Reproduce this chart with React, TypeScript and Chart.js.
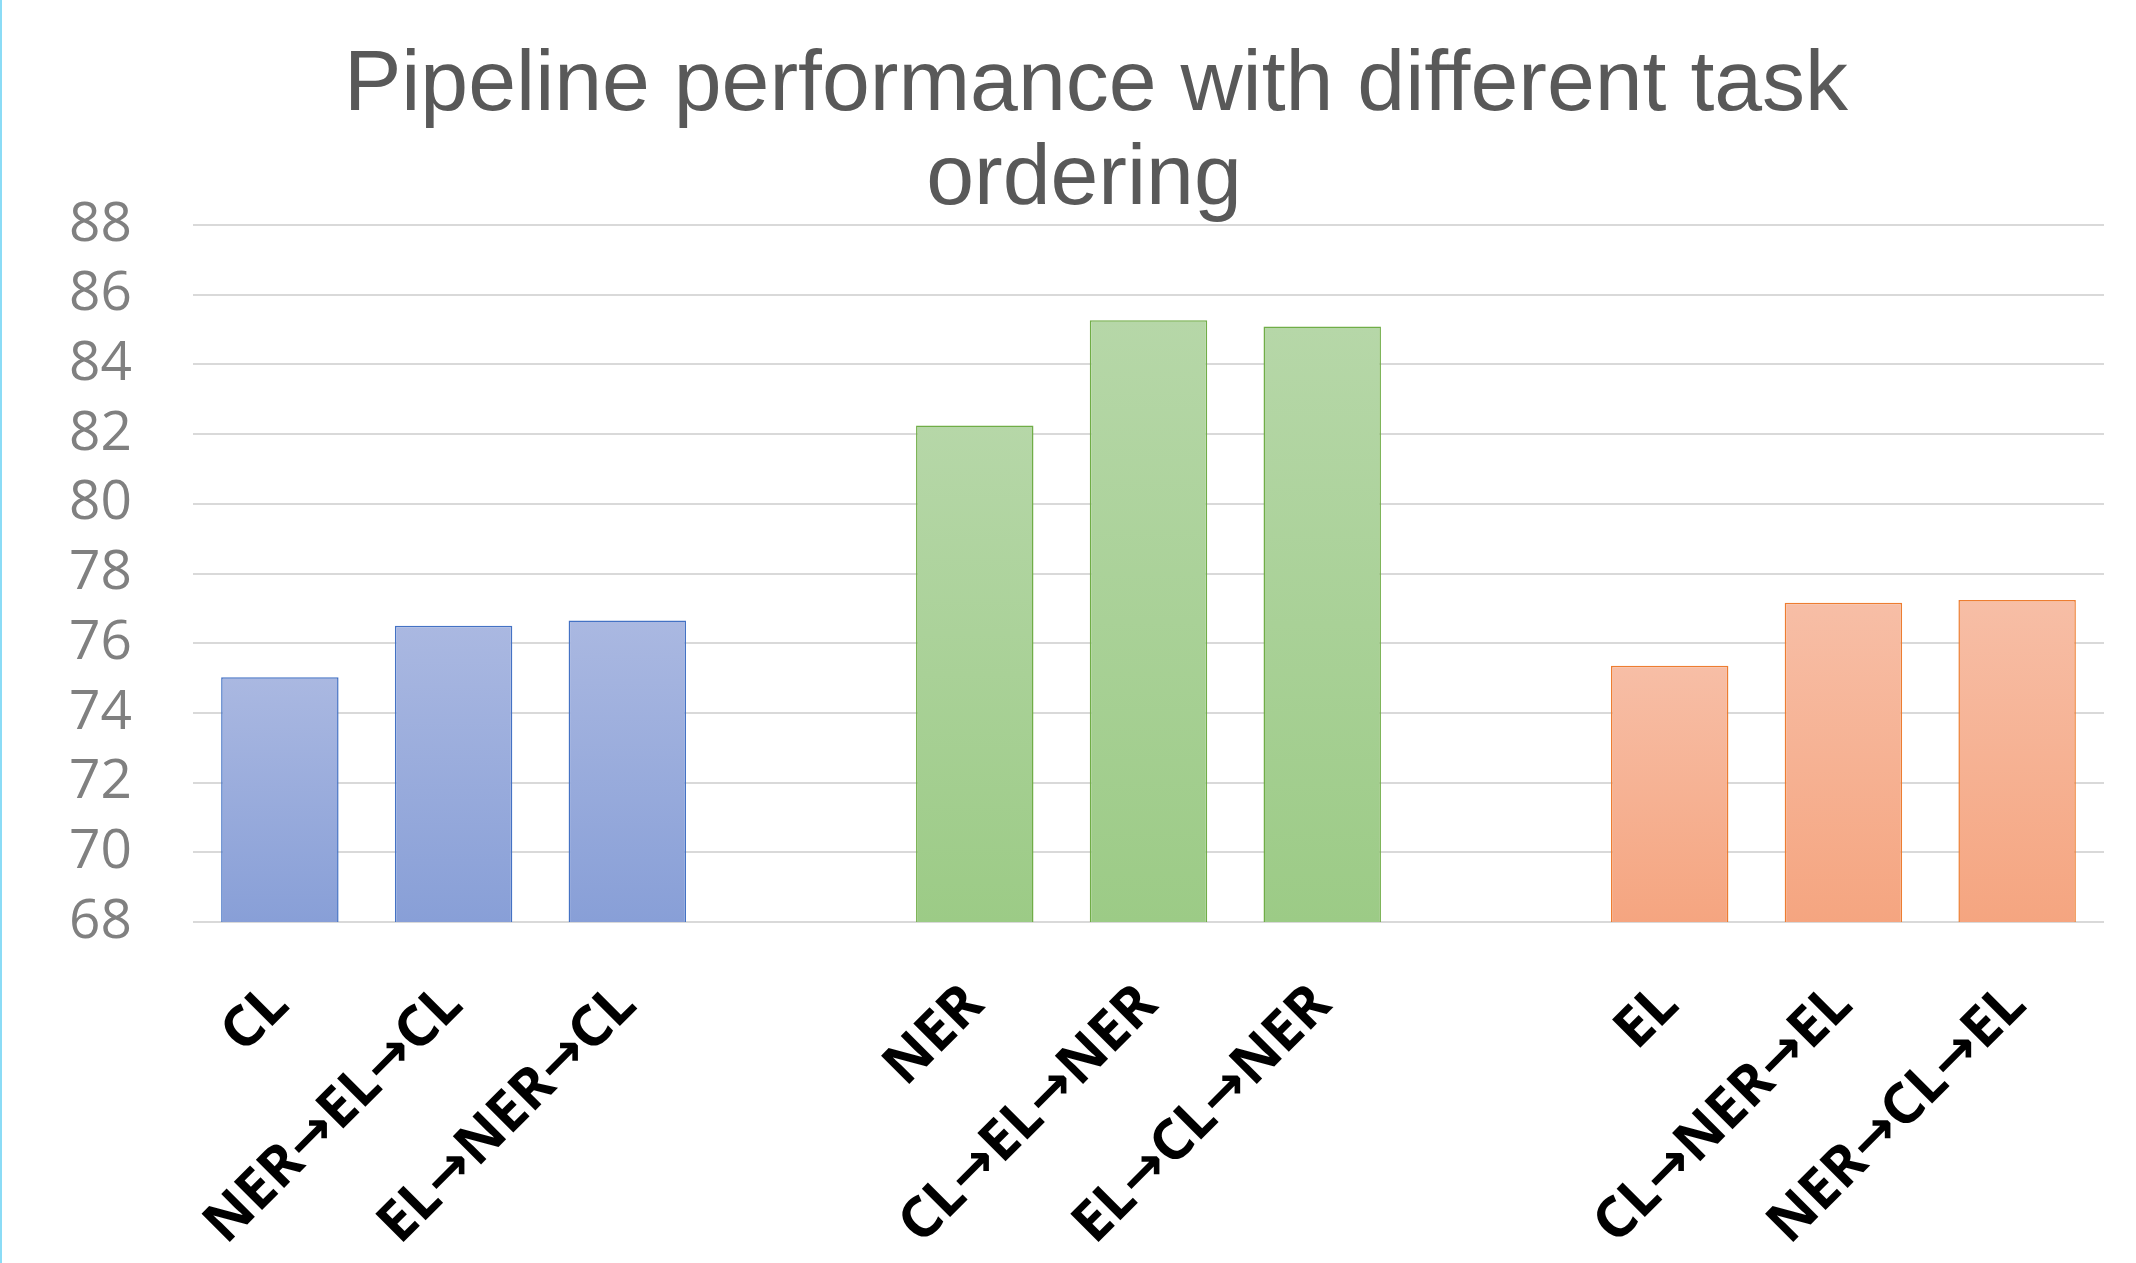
import React, { useEffect, useRef } from 'react';
import { Chart, registerables } from 'chart.js';

Chart.register(...registerables);

// ---- data ----
const clLabels = ['CL', 'NER→EL→CL', 'EL→NER→CL'];
const clValues = [75.02, 76.5, 76.65];
const nerLabels = ['NER', 'CL→EL→NER', 'EL→CL→NER'];
const nerValues = [82.25, 85.27, 85.09];
const elLabels = ['EL', 'CL→NER→EL', 'NER→CL→EL'];
const elValues = [75.35, 77.16, 77.24];
const titleLines = ['Pipeline performance with different task', 'ordering'];
const yMin = 68;
const yMax = 88;
const yStep = 2;

// ---- styles ----
const palettes = [
  { top: '#AAB8E1', bottom: '#889FD7', border: '#4472C4' },
  { top: '#B6D7A8', bottom: '#9CCB86', border: '#70AD47' },
  { top: '#F7BEA6', bottom: '#F5A580', border: '#ED7D31' },
];

const categories = [...clLabels, '', ...nerLabels, '', ...elLabels];
const values: (number | null)[] = [...clValues, null, ...nerValues, null, ...elValues];
const groupOf = [
  ...clLabels.map(() => 0),
  -1,
  ...nerLabels.map(() => 1),
  -1,
  ...elLabels.map(() => 2),
];

const titlePlugin = {
  id: 'customTitle',
  afterDraw(chart: any) {
    const ctx = chart.ctx;
    ctx.save();
    ctx.font = '86px "Liberation Sans", Arial, sans-serif';
    ctx.fillStyle = '#595959';
    ctx.textAlign = 'center';
    ctx.textBaseline = 'alphabetic';
    ctx.fillText(titleLines[0], 1096, 110);
    ctx.fillText(titleLines[1], 1084, 204);
    ctx.restore();
  },
};

export default function App() {
  const ref = useRef<HTMLCanvasElement | null>(null);

  useEffect(() => {
    if (!ref.current) return;
    const chart = new Chart(ref.current, {
      type: 'bar',
      data: {
        labels: categories,
        datasets: [
          {
            data: values,
            backgroundColor: (c: any) => {
              const g = groupOf[c.dataIndex];
              if (g === undefined || g < 0) return 'rgba(0,0,0,0)';
              const p = palettes[g];
              const ys = c.chart.scales && c.chart.scales.y;
              if (!ys || c.raw == null) return p.bottom;
              const top = ys.getPixelForValue(c.raw);
              const bottom = ys.getPixelForValue(yMin);
              if (!isFinite(top) || !isFinite(bottom) || top === bottom) return p.bottom;
              const grad = c.chart.ctx.createLinearGradient(0, top, 0, bottom);
              grad.addColorStop(0, p.top);
              grad.addColorStop(1, p.bottom);
              return grad;
            },
            borderColor: (c: any) => {
              const g = groupOf[c.dataIndex];
              return g >= 0 ? palettes[g].border : 'rgba(0,0,0,0)';
            },
            borderWidth: 1.5,
            borderSkipped: false,
            barPercentage: 0.676,
            categoryPercentage: 1,
          },
        ],
      },
      options: {
        responsive: false,
        animation: false,
        devicePixelRatio: 1,
        layout: { padding: { top: 225, right: 32, left: 0, bottom: 0 } },
        plugins: {
          legend: { display: false },
          title: { display: false },
          tooltip: { enabled: false },
        },
        scales: {
          x: {
            grid: { display: false, drawTicks: false },
            border: { display: false },
            ticks: {
              autoSkip: false,
              minRotation: 45,
              maxRotation: 45,
              padding: 50,
              color: '#000000',
              font: { family: '"Noto Sans", "DejaVu Sans", sans-serif', size: 56, weight: 'bold' },
            },
            afterFit: (s: any) => {
              s.height = 341;
            },
          },
          y: {
            min: yMin,
            max: yMax,
            grid: { color: '#D9D9D9', lineWidth: 2, drawTicks: false },
            border: { display: false },
            ticks: {
              stepSize: yStep,
              padding: 61,
              color: '#808080',
              font: { family: '"Open Sans", "Noto Sans", sans-serif', size: 55 },
            },
            afterFit: (s: any) => {
              s.width = 193;
            },
          },
        },
      },
      plugins: [titlePlugin],
    } as any);
    return () => chart.destroy();
  }, []);

  return (
    <div style={{ position: 'absolute', left: 0, top: 0, width: 2136, height: 1263, background: '#FFFFFF' }}>
      <canvas ref={ref} width={2136} height={1263} style={{ display: 'block' }} />
      <div style={{ position: 'absolute', left: 0, top: 0, width: 2, height: 1263, background: '#8BDCF6' }} />
    </div>
  );
}
